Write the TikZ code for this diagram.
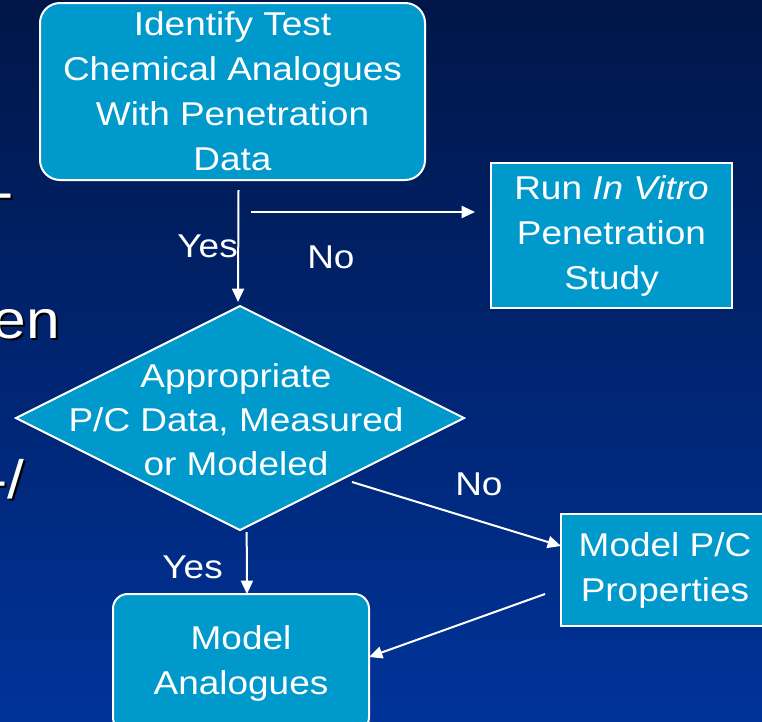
\documentclass[tikz,border=0pt]{standalone}
\usepackage{fontspec}
\setmainfont{Liberation Sans}[FakeStretch=1.12]
\usepackage{tikz}
\usetikzlibrary{calc, arrows.meta, positioning, shapes.geometric}
\usepackage{xcolor}
\definecolor{boxblue}{RGB}{0,153,204}
\definecolor{bgtop}{RGB}{0,22,72}
\definecolor{bgmid}{RGB}{0,50,148}
\definecolor{bgbot}{RGB}{0,51,153}
\tikzset{
    procbox/.style={draw=white, line width=1.5pt, fill=boxblue, text=white, align=center,
        inner sep=0pt, outer sep=0pt, font=\fontsize{24.75}{33.75}\selectfont},
    decision/.style={diamond, draw=white, line width=1.5pt, fill=boxblue, inner sep=0pt,
        outer sep=0pt, minimum width=336pt, minimum height=168pt},
    boxtext/.style={text=white, align=center, inner sep=0pt, font=\fontsize{24.75}{33}\selectfont},
    lbl/.style={text=white, inner sep=0pt, font=\fontsize{24.75}{30}\selectfont},
    cuttext/.style={inner sep=0pt, font=\fontsize{40.5}{48}\selectfont},
    flow/.style={draw=white, line width=1.5pt, -{Triangle[length=10pt, width=9pt]}}
}

\begin{document}
\begin{tikzpicture}[x=0.75pt, y=-0.75pt]
        \useasboundingbox (0,0) rectangle (762,721);
        \clip (0,0) rectangle (762,721);
        % Slide background
        \shade[top color=bgtop, middle color=bgmid, bottom color=bgbot] (0,0) rectangle (762,721);

        % Cut-off slide text at the left edge
        \node[cuttext, text=black, anchor=base east] (dashshadow) at (16,212) {-};
        \node[cuttext, text=white, anchor=base east] (dash) at (14,210) {-};
        \node[cuttext, text=black, anchor=base east] (enshadow) at (62,340) {en};
        \node[cuttext, text=white, anchor=base east] (en) at (60,338) {en};
        \node[cuttext, text=black, anchor=base east] (slashshadow) at (27,500) {-/};
        \node[cuttext, text=white, anchor=base east] (slash) at (25,498) {-/};

        % Boxes
        \node[procbox, rounded corners=15pt, minimum width=288.75pt, minimum height=132.75pt]
            (ident) at (232.5,91.5) {Identify Test\\Chemical Analogues\\With Penetration\\Data};
        \node[procbox, minimum width=180.75pt, minimum height=108.75pt]
            (vitro) at (611.5,235.5) {Run \textit{In Vitro}\\Penetration\\Study};
        \node[decision] (check) at (240,418) {};
        \node[boxtext] (checktext) at ([xshift=-3pt,yshift=-1.5pt]check.center)
            {Appropriate\\P/C Data, Measured\\or Modeled};
        \node[procbox, minimum width=156pt, minimum height=84pt]
            (pcprop) at (665,570) {Model P/C\\Properties};
        \node[procbox, rounded corners=11pt, minimum width=192pt, minimum height=103.5pt]
            (analog) at (241,663) {Model\\Analogues};

        % Identify -> decision, and branch to in vitro study
        \draw[flow] ([xshift=4.5pt,yshift=-7.5pt]ident.south) -- ([xshift=-1.5pt,yshift=3pt]check.north);
        \coordinate (split) at (251,212);
        \draw[flow, shorten >=12pt] (split) -- (split -| vitro.west);
        \node[lbl, anchor=base east] (yes1) at (238,257) {Yes};
        \node[lbl, anchor=base west] (no1) at (307,268) {No};

        % Decision -> model P/C properties
        \coordinate (nostart) at ($(check.east)!0.5!(check.south) + (0,8)$);
        \draw[flow] (nostart) -- ([yshift=18pt]pcprop.west);
        \node[lbl, anchor=base west] (no2) at (455,495) {No};

        % Decision -> model analogues
        \draw[flow] ([xshift=5pt,yshift=-1.5pt]check.south) -- ([xshift=4.5pt]analog.north);
        \node[lbl, anchor=base east] (yes2) at (223,578) {Yes};

        % Model P/C properties -> model analogues
        \draw[flow] ([xshift=-12pt,yshift=-18pt]pcprop.west) -- ([yshift=4.5pt]analog.east);
\end{tikzpicture}
\end{document}
